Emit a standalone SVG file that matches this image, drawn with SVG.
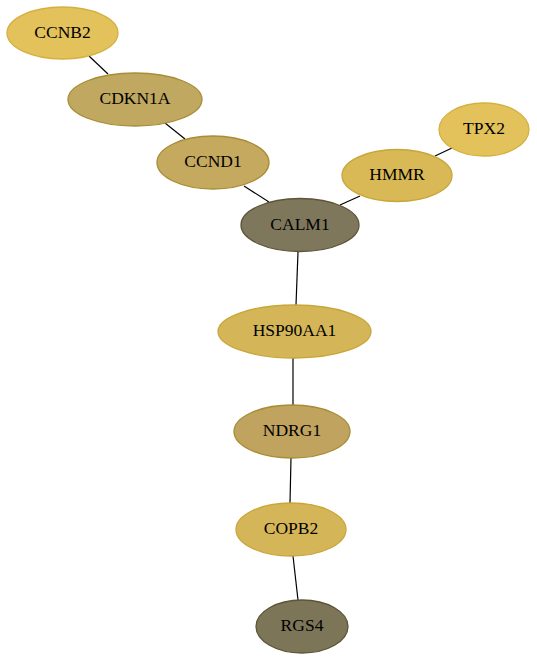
<svg xmlns="http://www.w3.org/2000/svg" width="537" height="660" viewBox="0 0 537 660">
<style>
.e{stroke:#000;stroke-width:1.2;fill:none}
.n text{font-family:"Liberation Serif","Times New Roman",serif;font-size:17.5px;text-anchor:middle;fill:#000}
.n ellipse{stroke-width:1.3}
.g1{fill:#e3c25c;stroke:#d4b040}
.g2{fill:#c1a860;stroke:#a88d35}
.g3{fill:#d4b658;stroke:#c9a63a}
.g4{fill:#7f775c;stroke:#5e5538}
</style>
<rect width="537" height="660" fill="#fff"/>
<g id="edges">
<line class="e" x1="89" y1="56" x2="108" y2="74"/>
<line class="e" x1="165" y1="123" x2="185" y2="139"/>
<line class="e" x1="244" y1="186" x2="269" y2="202"/>
<line class="e" x1="340" y1="205" x2="360" y2="196"/>
<line class="e" x1="435" y1="156" x2="452" y2="148"/>
<line class="e" x1="298" y1="252" x2="296" y2="305"/>
<line class="e" x1="293" y1="358" x2="293" y2="405"/>
<line class="e" x1="291" y1="458" x2="290" y2="503"/>
<line class="e" x1="293" y1="556" x2="298" y2="600"/>
</g>
<g id="CCNB2" class="n"><ellipse class="g1" cx="62.5" cy="33" rx="55.5" ry="26"/><text x="62.5" y="37.5">CCNB2</text></g>
<g id="CDKN1A" class="n"><ellipse class="g2" cx="135" cy="99.5" rx="67" ry="26.5"/><text x="135" y="104">CDKN1A</text></g>
<g id="CCND1" class="n"><ellipse class="g2" cx="213" cy="162.5" rx="56" ry="26.5" style="fill:#c4a95e"/><text x="213" y="167">CCND1</text></g>
<g id="HMMR" class="n"><ellipse class="g3" cx="397" cy="175.5" rx="55" ry="26" style="fill:#d8b955"/><text x="397" y="180">HMMR</text></g>
<g id="TPX2" class="n"><ellipse class="g1" cx="484" cy="129.5" rx="45" ry="26.5"/><text x="484" y="134">TPX2</text></g>
<g id="CALM1" class="n"><ellipse class="g4" cx="300" cy="225" rx="59" ry="26.5"/><text x="300" y="229.5">CALM1</text></g>
<g id="HSP90AA1" class="n"><ellipse class="g3" cx="294.5" cy="331.5" rx="76.5" ry="26.5"/><text x="294.5" y="336">HSP90AA1</text></g>
<g id="NDRG1" class="n"><ellipse class="g2" cx="292" cy="431.5" rx="58" ry="26.5" style="fill:#bfa35e"/><text x="292" y="436">NDRG1</text></g>
<g id="COPB2" class="n"><ellipse class="g3" cx="291" cy="529.5" rx="55" ry="26.5"/><text x="291" y="534">COPB2</text></g>
<g id="RGS4" class="n"><ellipse class="g4" cx="302" cy="626.5" rx="46" ry="26.5" style="fill:#7c7558"/><text x="302" y="631">RGS4</text></g>
</svg>
